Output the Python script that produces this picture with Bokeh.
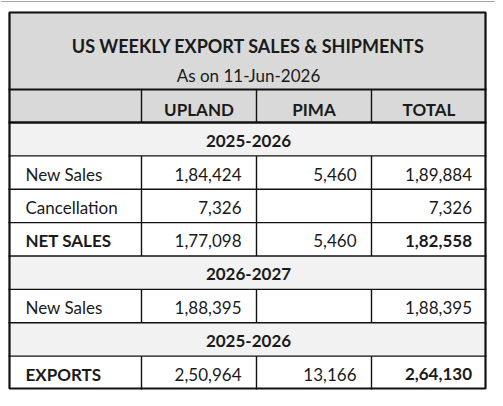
from bokeh.plotting import figure
from bokeh.models import Range1d
from bokeh.core.properties import value
from bokeh.embed import file_html
from bokeh.resources import INLINE

# ---- data ----
title = "US WEEKLY EXPORT SALES & SHIPMENTS"
subtitle = "As on 11-Jun-2026"
columns = ["UPLAND", "PIMA", "TOTAL"]
sections = ["2025-2026", "2026-2027", "2025-2026"]
row_labels = ["New Sales", "Cancellation", "NET SALES", "New Sales", "EXPORTS"]
row_section = [0, 0, 0, 1, 2]
upland = [184424, 7326, 177098, 188395, 250964]
pima = [5460, None, 5460, None, 13166]
total = [189884, 7326, 182558, 188395, 264130]
bold_rows = [False, False, True, False, True]


def indian(n):
    if n is None:
        return ""
    s = str(n)
    if len(s) <= 3:
        return s
    head, tail = s[:-3], s[-3:]
    parts = []
    while len(head) > 2:
        parts.insert(0, head[-2:])
        head = head[:-2]
    if head:
        parts.insert(0, head)
    return ",".join(parts + [tail])


# ---- layout (pixels) ----
W, H = 495, 390
col_x = [8, 141, 256, 371, 486]
top = 11
title_bottom = 89
header_bottom = 122
bottom = 389
FONT = "Lato"
TXT = "#1a1a1a"
GRAY = "#d9d9d9"
LIGHT = "#f2f2f2"

# row sequence
seq = []
prev = None
for i, s in enumerate(row_section):
    if s != prev:
        seq.append(("sec", s))
        prev = s
    seq.append(("row", i))
nrows = len(seq)
rh = (bottom - header_bottom) / nrows
row_top = [header_bottom + k * rh for k in range(nrows)]

p = figure(width=W, height=H, x_range=Range1d(0, W), y_range=Range1d(H, 0),
           output_backend="svg", toolbar_location=None, min_border=0,
           x_axis_location=None, y_axis_location=None)
p.grid.visible = False
p.outline_line_color = None
p.background_fill_color = "white"
p.border_fill_color = "white"

# page frame (top edge)
p.segment(x0=[0], y0=[1], x1=[W], y1=[1], line_color="#a6a6a6", line_width=1.2)

# backgrounds
ql, qr, qt, qb, qc = [], [], [], [], []
ql.append(col_x[0]); qr.append(col_x[-1]); qt.append(top); qb.append(title_bottom); qc.append(GRAY)
ql.append(col_x[0]); qr.append(col_x[-1]); qt.append(title_bottom); qb.append(header_bottom); qc.append(GRAY)
for k, (kind, idx) in enumerate(seq):
    ql.append(col_x[0]); qr.append(col_x[-1]); qt.append(row_top[k]); qb.append(row_top[k] + rh)
    qc.append(LIGHT if kind == "sec" else "white")
p.quad(left=ql, right=qr, top=qt, bottom=qb, fill_color=qc, line_color=None)


def seg(x0, y0, x1, y1, w):
    p.segment(x0=[x0], y0=[y0], x1=[x1], y1=[y1], line_color="#111111", line_width=w)


# horizontal lines
seg(col_x[0], title_bottom, col_x[-1], title_bottom, 2)
seg(col_x[0], header_bottom, col_x[-1], header_bottom, 2.6)
for k in range(1, nrows):
    seg(col_x[0], row_top[k], col_x[-1], row_top[k], 1.4)
# vertical lines in header and data rows
for cx in col_x[1:-1]:
    seg(cx, title_bottom, cx, header_bottom, 1.4)
    for k, (kind, idx) in enumerate(seq):
        if kind == "row":
            seg(cx, row_top[k], cx, row_top[k] + rh, 1.4)
# outer border
p.quad(left=[col_x[0] + 1], right=[col_x[-1] - 1], top=[top + 1], bottom=[bottom - 1],
       fill_color=None, line_color="#111111", line_width=2.2)


def txt(x, y, s, size, bold=False, align="left"):
    p.text(x=[x], y=[y], text=[s], text_font=value(FONT), text_font_size=f"{size}px",
           text_font_style="bold" if bold else "normal", text_color=TXT,
           text_align=align, text_baseline="middle")


cx_mid = (col_x[0] + col_x[-1]) / 2
txt(cx_mid + 1, 45, title, 18, bold=True, align="center")
txt(cx_mid + 1, 75, subtitle, 17, align="center")
for j, c in enumerate(columns):
    txt((col_x[j + 1] + col_x[j + 2]) / 2, 108.5, c, 17, bold=True, align="center")

for k, (kind, idx) in enumerate(seq):
    yc = row_top[k] + rh / 2 + 1.5
    if kind == "sec":
        txt(cx_mid + 1, yc, sections[idx], 17, bold=True, align="center")
    else:
        b = bold_rows[idx]
        txt(col_x[0] + 17, yc, row_labels[idx], 17, bold=b)
        txt(col_x[2] - 15, yc, indian(upland[idx]), 17, align="right")
        txt(col_x[3] - 15, yc, indian(pima[idx]), 17, align="right")
        txt(col_x[4] - 14.5, yc, indian(total[idx]), 17, bold=b, align="right")

open("out.html", "w").write(file_html(p, INLINE))
